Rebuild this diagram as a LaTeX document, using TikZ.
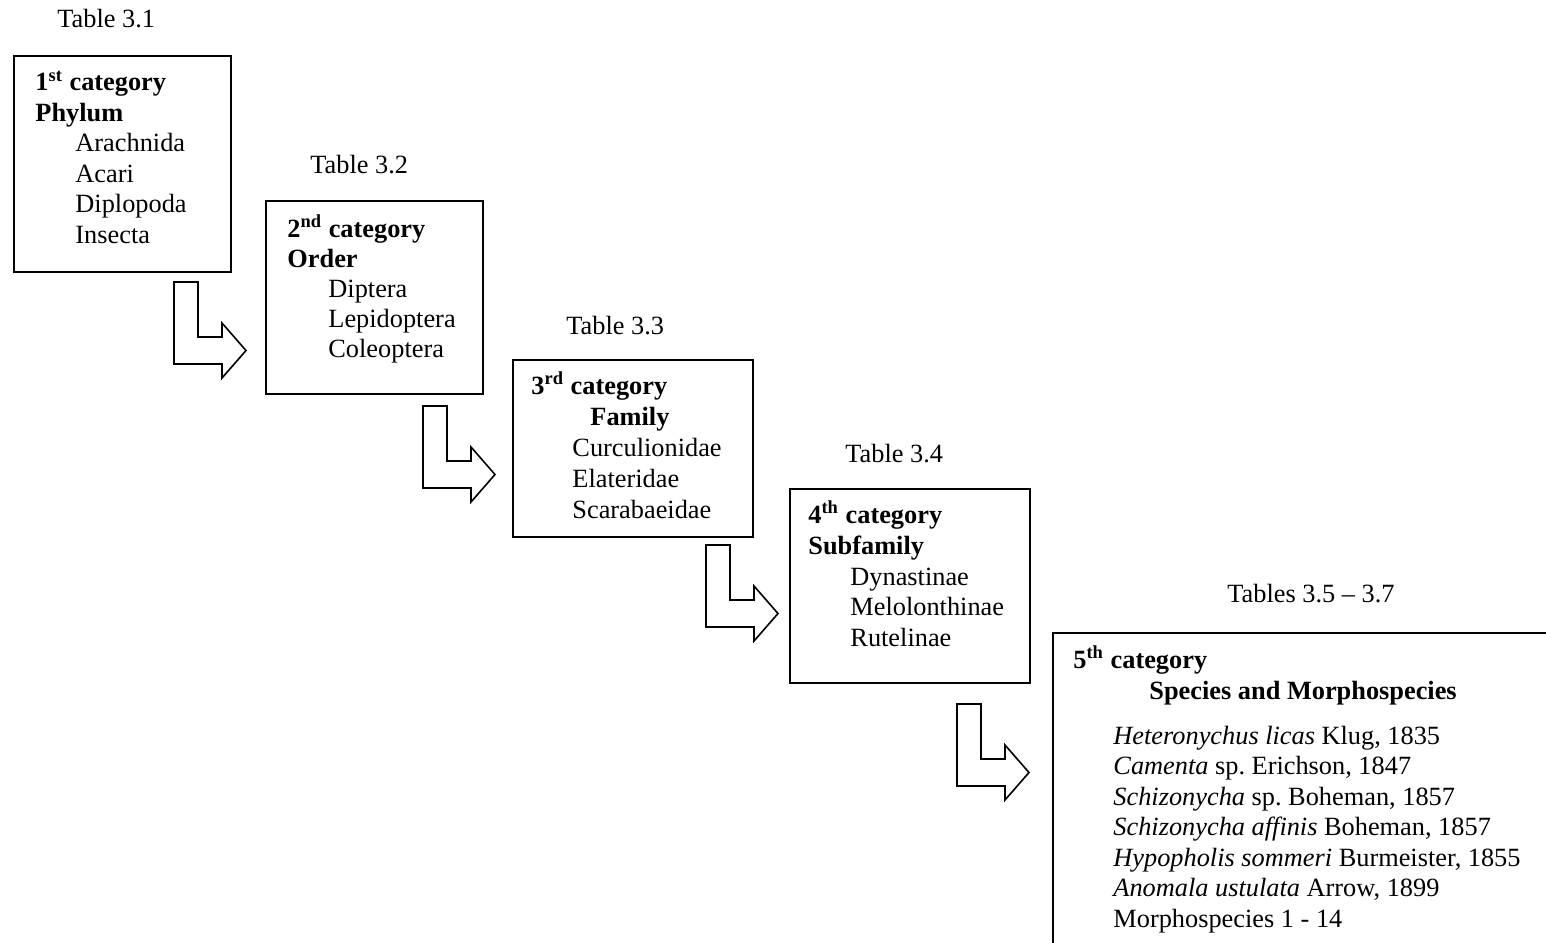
\documentclass[tikz,border=0pt]{standalone}
\usepackage{fontspec}
\setmainfont{Liberation Serif}
\frenchspacing
\begin{document}
\begin{tikzpicture}[x=0.467pt,y=-0.467pt,
  txt/.style={anchor=base west, inner sep=0pt, font=\fontsize{12.3}{14}\selectfont},
  hd/.style={txt, font=\fontsize{12.3}{14}\selectfont\bfseries},
  box/.style={draw, line width=0.85pt, anchor=north west, inner sep=0pt},
  blk/.style={draw, line width=0.75pt, line join=miter, fill=white},
  larrow/.pic={\draw[blk] (0,0) -- (24,0) -- (24,55) -- (48,55) -- (48,41) -- (72,68.5) -- (48,96) -- (48,82) -- (0,82) -- cycle;}]
\useasboundingbox (0,0) rectangle (1546,942);
\clip (0,0) rectangle (1546,942);

% boxes
\node[box, minimum width=217*0.467pt, minimum height=216*0.467pt] (b1) at (13,55) {};
\node[box, minimum width=217*0.467pt, minimum height=193*0.467pt] (b2) at (265,200) {};
\node[box, minimum width=240*0.467pt, minimum height=177*0.467pt] (b3) at (512,359) {};
\node[box, minimum width=240*0.467pt, minimum height=194*0.467pt] (b4) at (789,488) {};
\node[box, minimum width=560*0.467pt, minimum height=360*0.467pt] (b5) at (1052,632) {};

% block arrows
\pic (a1) at (174,282) {larrow};
\pic (a2) at (423,406) {larrow};
\pic (a3) at (706,545) {larrow};
\pic (a4) at (957,704) {larrow};

% table labels
\node[txt] (t1) at (57,27) {Table 3.1};
\node[txt] (t2) at (310,173) {Table 3.2};
\node[txt] (t3) at (566,334) {Table 3.3};
\node[txt] (t4) at (845,462) {Table 3.4};
\node[txt] (t5) at (1227,602) {Tables 3.5 -- 3.7};

% box 1
\node[hd] (c1) at (35,90.5) {1\textsuperscript{st} category};
\node[hd] (h1) at (35,121) {Phylum};
\node[txt] (p1) at (75,151.5) {Arachnida};
\node[txt] (p2) at (75,182) {Acari};
\node[txt] (p3) at (75,212.5) {Diplopoda};
\node[txt] (p4) at (75,243) {Insecta};

% box 2
\node[hd] (c2) at (287,237) {2\textsuperscript{nd} category};
\node[hd] (h2) at (287,267) {Order};
\node[txt] (o1) at (328,297) {Diptera};
\node[txt] (o2) at (328,327) {Lepidoptera};
\node[txt] (o3) at (328,357) {Coleoptera};

% box 3
\node[hd] (c3) at (531,394) {3\textsuperscript{rd} category};
\node[hd] (h3) at (590,425) {Family};
\node[txt] (f1) at (572,456) {Curculionidae};
\node[txt] (f2) at (572,487) {Elateridae};
\node[txt] (f3) at (572,518) {Scarabaeidae};

% box 4
\node[hd] (c4) at (808,523) {4\textsuperscript{th} category};
\node[hd] (h4) at (808,554) {Subfamily};
\node[txt] (s1) at (850,585) {Dynastinae};
\node[txt] (s2) at (850,615.5) {Melolonthinae};
\node[txt] (s3) at (850,646) {Rutelinae};

% box 5
\node[hd] (c5) at (1073,668) {5\textsuperscript{th} category};
\node[hd] (h5) at (1149,699) {Species and Morphospecies};
\node[txt] (m1) at (1113,744) {\textit{Heteronychus licas} Klug, 1835};
\node[txt] (m2) at (1113,774.5) {\textit{Camenta} sp. Erichson, 1847};
\node[txt] (m3) at (1113,805) {\textit{Schizonycha} sp. Boheman, 1857};
\node[txt] (m4) at (1113,835.5) {\textit{Schizonycha affinis} Boheman, 1857};
\node[txt] (m5) at (1113,866) {\textit{Hypopholis sommeri} Burmeister, 1855};
\node[txt] (m6) at (1113,896.5) {\textit{Anomala ustulata} Arrow, 1899};
\node[txt] (m7) at (1113,927) {Morphospecies 1 - 14};
\end{tikzpicture}
\end{document}
